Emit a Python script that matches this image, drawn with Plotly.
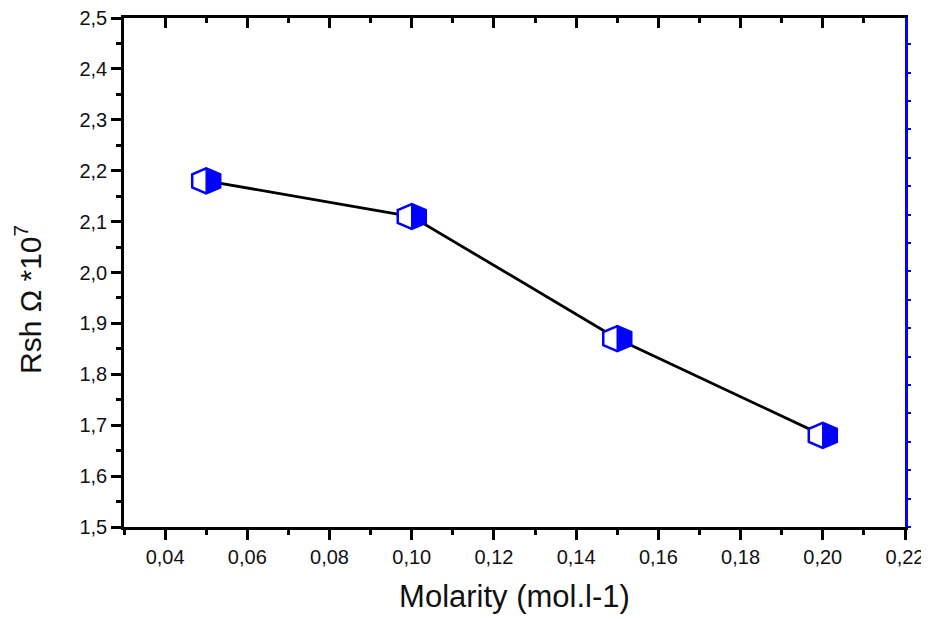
import plotly.graph_objects as go

# Data
molarity = [0.05, 0.10, 0.15, 0.20]
rsh = [2.18, 2.11, 1.87, 1.68]

x_tickvals = [0.04, 0.06, 0.08, 0.10, 0.12, 0.14, 0.16, 0.18, 0.20, 0.22]
x_ticktext = ["0,04", "0,06", "0,08", "0,10", "0,12", "0,14", "0,16", "0,18", "0,20", "0,22"]
y_tickvals = [1.5, 1.6, 1.7, 1.8, 1.9, 2.0, 2.1, 2.2, 2.3, 2.4, 2.5]
y_ticktext = ["1,5", "1,6", "1,7", "1,8", "1,9", "2,0", "2,1", "2,2", "2,3", "2,4", "2,5"]

BLUE = "#0000ff"
FONT = "Liberation Sans, Arial, sans-serif"

fig = go.Figure()
fig.add_trace(go.Scatter(
    x=molarity, y=rsh, mode="lines+markers",
    line=dict(color="black", width=2.8),
    marker=dict(symbol="hexagon", size=22, color="white",
                line=dict(color=BLUE, width=2)),
    showlegend=False, hoverinfo="x+y",
))
# dummy trace to host the top/right frame axes
fig.add_trace(go.Scatter(x=[], y=[], xaxis="x2", yaxis="y2",
                         showlegend=False, hoverinfo="skip"))

# half-filled hexagon marker overlays (pixel-sized, anchored at data points)
hw, hv, ht = 14, 6.5, 12.5
full_path = f"M{-hw},{-hv} L{-hw},{hv} L0,{ht} L{hw},{hv} L{hw},{-hv} L0,{-ht} Z"
half_path = f"M0,{-ht} L{hw},{-hv} L{hw},{hv} L0,{ht} Z"
shapes = []
for xv, yv in zip(molarity, rsh):
    shapes.append(dict(type="path", xref="x", yref="y", xsizemode="pixel", ysizemode="pixel",
                       xanchor=xv, yanchor=yv, path=full_path,
                       fillcolor="white", line=dict(color=BLUE, width=2.5), layer="above"))
    shapes.append(dict(type="path", xref="x", yref="y", xsizemode="pixel", ysizemode="pixel",
                       xanchor=xv, yanchor=yv, path=half_path,
                       fillcolor=BLUE, line=dict(color=BLUE, width=1.5), layer="above"))

tickfont = dict(family=FONT, size=20, color="#111111")

fig.update_layout(
    width=921, height=611,
    margin=dict(l=116, r=24, t=10, b=92, autoexpand=False),
    paper_bgcolor="white", plot_bgcolor="white",
    separators=",.",
    shapes=shapes,
    annotations=[dict(
        text="Rsh Ω *10<sup>7</sup>", textangle=-90,
        xref="paper", yref="paper", x=0, y=0.446, xshift=-96,
        xanchor="center", yanchor="middle", showarrow=False,
        font=dict(family=FONT, size=30, color="#111111"),
    )],
    xaxis=dict(
        range=[0.03, 0.22], tickvals=x_tickvals, ticktext=x_ticktext,
        showgrid=False, zeroline=False, automargin=False, ticklabeloverflow="allow",
        showline=True, linecolor="black", linewidth=2.5,
        ticks="outside", ticklen=10, tickwidth=2.5, tickcolor="black",
        minor=dict(dtick=0.01, tick0=0.03, ticks="outside", ticklen=5, tickwidth=2.5, tickcolor="black", showgrid=False),
        tickfont=tickfont,
        title=dict(text="Molarity (mol.l-1)", font=dict(family=FONT, size=31, color="#111111"), standoff=19),
    ),
    yaxis=dict(
        range=[1.5, 2.5], tickvals=y_tickvals, ticktext=y_ticktext,
        showgrid=False, zeroline=False, automargin=False, ticklabeloverflow="allow",
        showline=True, linecolor="black", linewidth=2.5,
        ticks="outside", ticklen=10, tickwidth=2.5, tickcolor="black",
        minor=dict(dtick=0.05, tick0=1.5, ticks="outside", ticklen=5, tickwidth=2.5, tickcolor="black", showgrid=False),
        tickfont=tickfont,
    ),
    xaxis2=dict(
        overlaying="x", side="top", range=[0.03, 0.22], tickvals=x_tickvals,
        showticklabels=False, showgrid=False, zeroline=False, automargin=False,
        showline=True, linecolor="black", linewidth=2.5,
        ticks="inside", ticklen=10, tickwidth=2.5, tickcolor="black",
        minor=dict(dtick=0.01, tick0=0.03, ticks="inside", ticklen=5, tickwidth=2.5, tickcolor="black", showgrid=False),
    ),
    yaxis2=dict(
        overlaying="y", side="right", range=[0, 17.92], dtick=1, tick0=0,
        showticklabels=False, showgrid=False, zeroline=False, automargin=False,
        showline=True, linecolor=BLUE, linewidth=2.5,
        ticks="outside", ticklen=3, tickwidth=1.5, tickcolor=BLUE,
    ),
)

fig.write_html("out.html")
